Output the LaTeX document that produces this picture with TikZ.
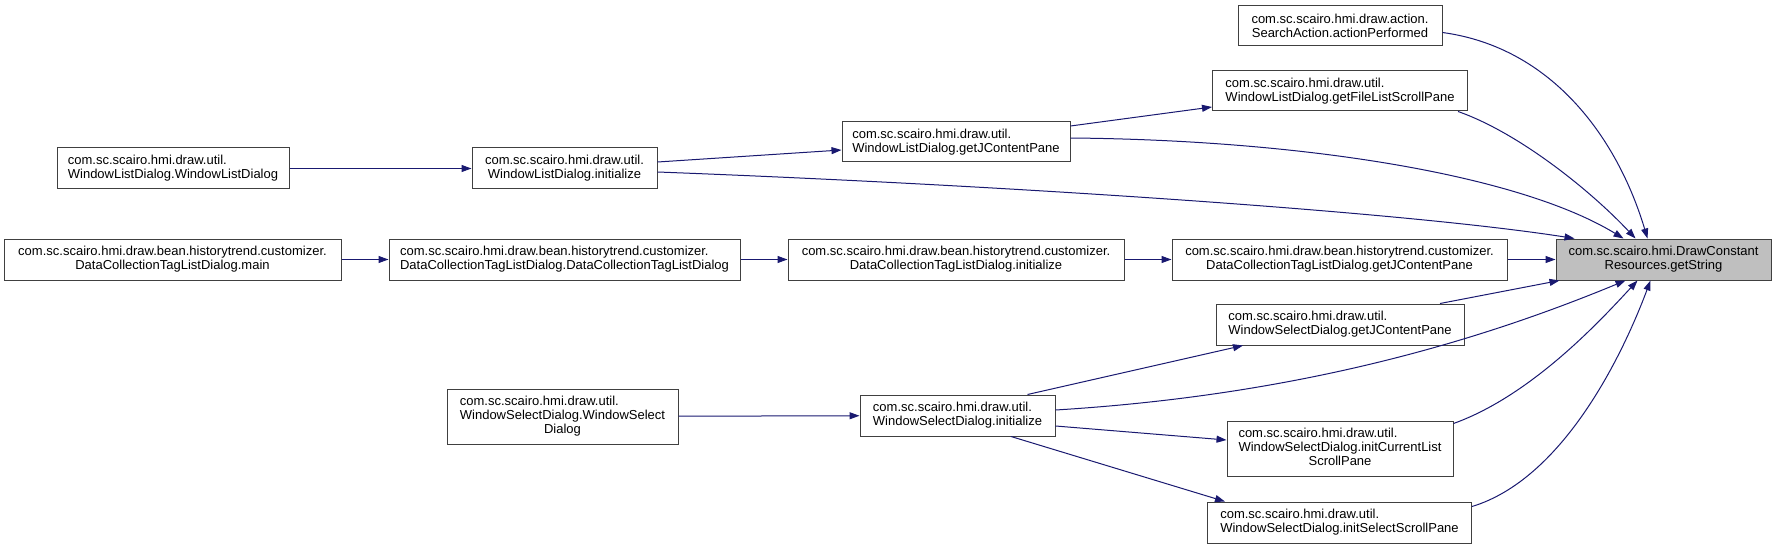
\documentclass[tikz,border=0pt]{standalone}
\usepackage{fontspec}
\setmainfont{Liberation Sans}
\usetikzlibrary{arrows.meta}
\definecolor{callblue}{HTML}{191970}
\definecolor{boxgray}{HTML}{BFBFBF}
\definecolor{framegray}{HTML}{404040}

\begin{document}
\begin{tikzpicture}[x=1pt,y=-1pt,
    func/.style={draw=framegray,line width=1pt,fill=white,inner sep=0pt,font=\fontsize{13}{14}\selectfont},
    target/.style={func,draw=black!75,fill=boxgray},
    call/.style={callblue,line width=1pt,-{Triangle[length=10pt,width=7pt]}}]
    \useasboundingbox (0,0) rectangle (1776,548);
    % first column
    \node[func,align=left,minimum width=232pt,minimum height=41pt] (wld) at (173,168.5) {com.sc.scairo.hmi.draw.util.\\WindowListDialog.WindowListDialog};
    \node[func,align=center,minimum width=337pt,minimum height=41pt] (dmain) at (172.5,259.5) {com.sc.scairo.hmi.draw.bean.historytrend.customizer.\\DataCollectionTagListDialog.main};
    % second column
    \node[func,align=center,minimum width=185pt,minimum height=41pt] (wli) at (564.5,168.5) {com.sc.scairo.hmi.draw.util.\\WindowListDialog.initialize};
    \node[func,align=left,minimum width=351pt,minimum height=41pt] (dctor) at (564.5,259.5) {com.sc.scairo.hmi.draw.bean.historytrend.customizer.\\DataCollectionTagListDialog.DataCollectionTagListDialog};
    \node[func,minimum width=231pt,minimum height=55pt] (wsd) at (562.5,416.5) {\begin{tabular}{@{}l@{}}com.sc.scairo.hmi.draw.util.\\WindowSelectDialog.WindowSelect\\\multicolumn{1}{@{}c@{}}{Dialog}\end{tabular}};
    % third column
    \node[func,align=left,minimum width=228pt,minimum height=40pt] (wgc) at (956,142) {com.sc.scairo.hmi.draw.util.\\WindowListDialog.getJContentPane};
    \node[func,align=center,minimum width=336pt,minimum height=41pt] (dinit) at (956,259.5) {com.sc.scairo.hmi.draw.bean.historytrend.customizer.\\DataCollectionTagListDialog.initialize};
    \node[func,align=left,minimum width=195pt,minimum height=41pt] (wsi) at (957.5,415.5) {com.sc.scairo.hmi.draw.util.\\WindowSelectDialog.initialize};
    % fourth column
    \node[func,align=center,minimum width=204pt,minimum height=40pt] (sa) at (1340,25.5) {com.sc.scairo.hmi.draw.action.\\SearchAction.actionPerformed};
    \node[func,align=left,minimum width=255pt,minimum height=40pt] (fl) at (1340,91) {com.sc.scairo.hmi.draw.util.\\WindowListDialog.getFileListScrollPane};
    \node[func,align=center,minimum width=335pt,minimum height=41pt] (dgc) at (1339.5,259.5) {com.sc.scairo.hmi.draw.bean.historytrend.customizer.\\DataCollectionTagListDialog.getJContentPane};
    \node[func,align=left,minimum width=248pt,minimum height=41pt] (wsgc) at (1340,324.5) {com.sc.scairo.hmi.draw.util.\\WindowSelectDialog.getJContentPane};
    \node[func,minimum width=226pt,minimum height=55pt] (icl) at (1340,448.5) {\begin{tabular}{@{}l@{}}com.sc.scairo.hmi.draw.util.\\WindowSelectDialog.initCurrentList\\\multicolumn{1}{@{}c@{}}{ScrollPane}\end{tabular}};
    \node[func,align=left,minimum width=264pt,minimum height=41pt] (isl) at (1339.5,522.5) {com.sc.scairo.hmi.draw.util.\\WindowSelectDialog.initSelectScrollPane};
    % called function
    \node[target,align=center,minimum width=215pt,minimum height=41pt] (dcr) at (1663.5,259.5) {com.sc.scairo.hmi.DrawConstant\\Resources.getString};
    % straight calls
    \draw[call] (wld) -- (wli);
    \draw[call] (dmain) -- (dctor);
    \draw[call] (dctor) -- (dinit);
    \draw[call] (dinit) -- (dgc);
    \draw[call] (dgc) -- (dcr);
    \draw[call] (wsd) -- (wsi);
    \draw[call] ([yshift=6.5pt]wli.east) -- ([yshift=-8pt]wgc.west);
    \draw[call] ([yshift=16pt]wgc.east) -- ([yshift=-16pt]fl.west);
    \draw[call] ([xshift=70pt]wsi.north) -- ([xshift=-97pt]wsgc.south);
    \draw[call] ([yshift=-10.5pt]wsi.east) -- ([yshift=8.5pt]icl.west);
    \draw[call] ([xshift=53.5pt]wsi.south) -- ([xshift=18pt]isl.north west);
    \draw[call] ([xshift=100pt]wsgc.north) -- ([xshift=4pt]dcr.south west);
    % curved calls into the target
    \draw[call] ([yshift=-7pt]sa.east) .. controls +(110,15) and +(-30,-100) .. ([xshift=92pt]dcr.north west);
    \draw[call] ([xshift=-10pt]fl.south east) .. controls +(60,21) and +(-46,-49) .. ([xshift=80pt]dcr.north west);
    \draw[call] ([yshift=4pt]wgc.east) .. controls +(232,2) and +(-105,-64) .. ([xshift=68pt]dcr.north west);
    \draw[call] ([yshift=-3.5pt]wli.east) .. controls +(343,13) and +(-172,-27) .. ([xshift=19pt]dcr.north west);
    \draw[call] ([yshift=5.5pt]wsi.east) .. controls +(245,-15) and +(-145,60) .. ([xshift=70pt]dcr.south west);
    \draw[call] ([yshift=-3pt]icl.north east) .. controls +(78,-28) and +(-37,40) .. ([xshift=82pt]dcr.south west);
    \draw[call] ([yshift=-5pt]isl.north east) .. controls +(89,-27) and +(-30,80) .. ([xshift=95pt]dcr.south west);
\end{tikzpicture}
\end{document}
